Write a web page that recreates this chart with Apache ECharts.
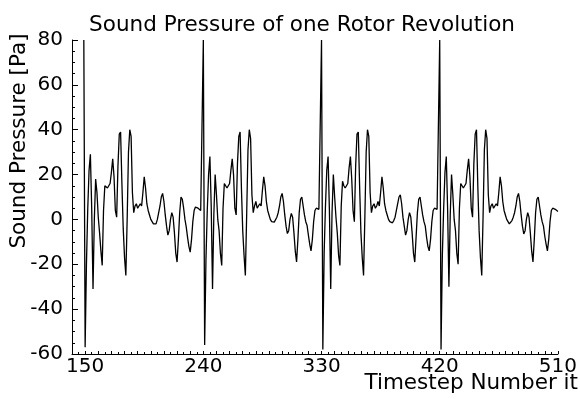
<!DOCTYPE html>
<html>
<head>
<meta charset="utf-8">
<script src="https://cdn.jsdelivr.net/npm/echarts@6/dist/echarts.min.js"></script>
<style>
html,body{margin:0;padding:0;background:#fff;}
#chart{width:580px;height:399px;}
</style>
</head>
<body>
<div id="chart"></div>
<script>
// Tick labels
const xTickLabels = [150, 240, 330, 420, 510];
const yTickLabels = [-60, -40, -20, 0, 20, 40, 60, 80];

// Sound pressure per timestep, one array per rotor period (first timestep of each given)
const period1Start = 149;
const period1 = [80, -57, -20, 5, 22, 29, 5, -31, 0, 18, 12, 1, -6, -14, -20.5, 4, 15, 15, 14, 15,
  16, 21, 27, 19, 4, 1, 24, 38, 39, 16, -4, -17, -25, 0, 30, 40, 37, 12, 3, 6,
  7, 5, 6, 7, 6, 12, 19, 14, 7, 4, 2, 0, -1, -2, -2.7, -2, 0, 3, 6, 10,
  11.6, 8, 2, -3, -7, -5, 0, 3, 1, -6, -15, -19, -9, 3, 10, 9, 5, 0, -3.4, -8,
  -12, -14.6, -9, -1, 4, 5.5, 5.5, 5, 4.5, 4, 4];

const period2Start = 240;
const period2 = [80, -56, -18, 4, 20, 28, 6, -31, 2, 20, 11, 0, -5, -15, -20.5, 5, 16, 16, 14, 15,
  16, 22, 27, 20, 5, 2, 25, 37, 39, 14, -5, -16, -25, 2, 31, 40, 36, 11, 3, 6,
  8, 5, 6, 7, 6, 13, 19, 15, 8, 4, 2, 0, -1, -1.5, -1.2, -0.5, 1, 3, 6, 10,
  11.6, 8, 2, -3, -6.3, -5, 0, 2.7, 1, -6, -14, -19, -9, 3, 9, 10, 6, 2, -1, -2.7,
  -7, -11, -14, -9, -1, 4, 5, 5, 4.5, 4];

const period3Start = 330;
const period3 = [80, -58, -15, 6, 22, 28, 4, -31, 3, 20, 10, 1, -6, -16, -20.5, 6, 17, 15, 14, 14,
  16, 23, 28, 18, 4, -1, 24, 38, 39, 15, -6, -17, -25, 1, 30, 40, 37, 12, 3, 6,
  7, 5, 6, 8, 6, 12, 19, 14, 7, 4, 2, 0, -1, -1.8, -1.5, -0.5, 1, 4, 7, 10,
  11, 7, 1, -3, -7, -5, 0, 3, 1, -6, -15, -19, -8, 3, 9, 10, 6, 2, -1, -3,
  -8, -12, -14, -9, -1, 4, 5, 5, 4.5, 4];

const period4Start = 420;
const period4 = [80, -58, -16, 5, 21, 28, 5, -30, 2, 20, 11, 0, -5, -15, -20, 5, 16, 15, 14, 15,
  16, 22, 27, 19, 5, 1, 25, 38, 40, 15, -5, -17, -25, 1, 31, 40, 36, 11, 3, 6,
  7, 5, 6, 7, 6, 12, 19, 15, 8, 4, 2, 0, -1, -2, -1.5, -0.5, 1, 3, 6, 10,
  11.6, 8, 2, -3, -6.5, -5, 0, 3, 1, -6, -14, -19, -9, 3, 9, 10, 6, 2, -1, -3,
  -7.5, -11, -14, -9, -1, 4, 5, 5, 4.5, 4, 3.5];

function pairs(start, vals) { return vals.map((v, i) => [start + i, v]); }
const seriesData = [].concat(
  pairs(period1Start, period1),
  pairs(period2Start, period2),
  pairs(period3Start, period3),
  pairs(period4Start, period4)
);

const FONT = '"DejaVu Sans", sans-serif';
const chart = echarts.init(document.getElementById('chart'), null, {renderer: 'canvas'});
chart.setOption({
  animation: false,
  backgroundColor: '#ffffff',
  grid: {left: 72, right: 22, top: 40, bottom: 45, containLabel: false},
  xAxis: {
    type: 'value', min: 140, max: 510, interval: 10,
    axisLine: {show: true, onZero: false, lineStyle: {color: '#000', width: 1}},
    axisTick: {show: true, inside: true, length: 3, lineStyle: {color: '#000', width: 1}},
    minorTick: {show: true, splitNumber: 2, length: 2, lineStyle: {color: '#000', width: 1}},
    splitLine: {show: false},
    axisLabel: {
      color: '#000', fontFamily: FONT, fontSize: 20, margin: 3,
      formatter: v => xTickLabels.indexOf(v) >= 0 ? String(v) : ''
    }
  },
  yAxis: {
    type: 'value', min: -60, max: 80, interval: 20,
    axisLine: {show: true, onZero: false, lineStyle: {color: '#000', width: 1}},
    axisTick: {show: true, inside: true, length: 6, lineStyle: {color: '#000', width: 1}},
    minorTick: {show: true, splitNumber: 4, length: 3, lineStyle: {color: '#000', width: 1}},
    splitLine: {show: false},
    axisLabel: {
      color: '#000', fontFamily: FONT, fontSize: 20, margin: 9,
      formatter: v => yTickLabels.indexOf(v) >= 0 ? String(v) : ''
    }
  },
  series: [{
    type: 'line', data: seriesData, symbol: 'none', showSymbol: false,
    lineStyle: {color: '#000', width: 1.3}, clip: true
  }],
  graphic: [
    {type: 'text', x: 302, y: 25, style: {text: 'Sound Pressure of one Rotor Revolution', fill: '#000', font: '21.5px ' + FONT, textAlign: 'center', textVerticalAlign: 'middle'}},
    {type: 'text', x: 19.5, y: 141, rotation: Math.PI / 2, style: {text: 'Sound Pressure [Pa]', fill: '#000', font: '21.5px ' + FONT, textAlign: 'center', textVerticalAlign: 'middle'}},
    {type: 'text', x: 578, y: 383, style: {text: 'Timestep Number it', fill: '#000', font: '21.5px ' + FONT, textAlign: 'right', textVerticalAlign: 'middle'}}
  ]
});
</script>
</body>
</html>
